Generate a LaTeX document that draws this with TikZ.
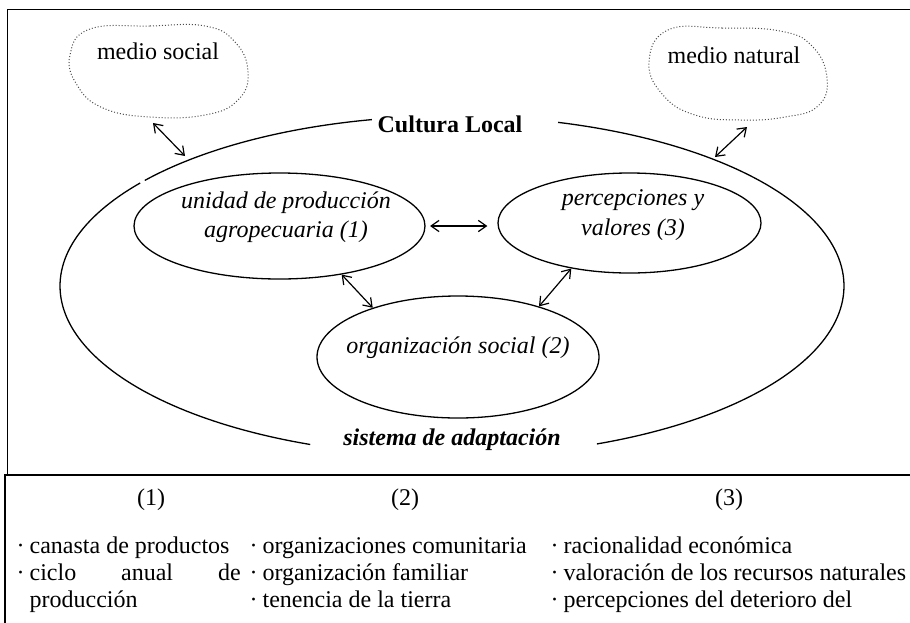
\documentclass[tikz,border=0pt]{standalone}
\usepackage{fontspec}
\setmainfont{Liberation Serif}
\usetikzlibrary{shapes.geometric,arrows.meta}
\newcommand{\bul}{\makebox[6.5pt][l]{\textperiodcentered}}
\begin{document}
\begin{tikzpicture}[x=0.5pt,y=-0.5pt,line width=0.65pt,font=\fontsize{12}{14.5}\selectfont,
	>={Straight Barb[length=4pt,width=5.6pt]},
	bubble/.style={draw,ellipse,inner sep=0pt},
	inlabel/.style={align=center,inner sep=0pt,font=\fontsize{12}{14.75}\selectfont\itshape},
	blob/.style={draw=black!70,line width=0.5pt,densely dotted},
	link/.style={<->,line width=0.6pt},
	col/.style={anchor=base west,inner sep=0pt,font=\fontsize{12}{13.5}\selectfont}]
	\useasboundingbox (0,0) rectangle (910,622);
	\clip (0,0) rectangle (910,622);
	\draw[line width=0.8pt] (920,9.5) -- (7.5,9.5) -- (7.5,475);
	\draw[line width=0.8pt] (5,640) -- (5,475) -- (920,475);
	\draw[blob] plot[smooth cycle,tension=0.75] coordinates {(90,29) (150,26) (205,26) (235,42)
		(248,72) (238,100) (205,115) (150,117) (103,108) (77,85) (70,55)};
	\draw[blob] plot[smooth cycle,tension=0.75] coordinates {(668,30) (722,28) (780,31) (812,46)
		(827,78) (818,106) (785,117) (740,120) (695,115) (663,95) (649,62)};
	\node (social) at (158,51) {medio social};
	\node (natural) at (734,55) {medio natural};
	\draw plot[domain=101.8:141.6,samples=40] ({452+392*cos(\x)},{286-170*sin(\x)});
	\draw plot[domain=142.7:248.8,samples=80] ({452+392*cos(\x)},{286-170*sin(\x)});
	\draw plot[domain=-68.3:74.3,samples=100] ({452+392*cos(\x)},{286-170*sin(\x)});
	\node (cultura) at (450,124) {\bfseries Cultura Local};
	\node (sistema) at (452,440) {\bfseries\itshape sistema de adaptación};
	\node[bubble,minimum width=145.5pt,minimum height=53pt] (unidad) at (279.5,226) {};
	\node[bubble,minimum width=131.5pt,minimum height=50pt] (perc) at (629.5,223) {};
	\node[bubble,minimum width=141pt,minimum height=61pt] (org) at (458,357) {};
	\node[inlabel] (unidadtxt) at (286,217) {unidad de producción\\agropecuaria (1)};
	\node[inlabel] (perctxt) at (633,215) {percepciones y\\valores (3)};
	\node[inlabel] (orgtxt) at (458,348) {organización social (2)};
	\coordinate (socialend) at (153,123);
	\coordinate (culturaW) at (185,156);
	\coordinate (naturalend) at (747,127);
	\coordinate (culturaE) at (715,157);
	\draw[link] (socialend) -- (culturaW);
	\draw[link] (naturalend) -- (culturaE);
	\draw[link,shorten <=2.2pt,shorten >=5pt] (unidad.east) -- (unidad.east -| perc.west);
	\draw[link] (unidad.-38) -- (org.150);
	\draw[link] (perc.218) -- (org.32);
	\node (h1) at (151,500) {(1)};
	\node (h2) at (405,500) {(2)};
	\node (h3) at (729,500) {(3)};
	\node[col] (items1) at (16,553.5) {\begin{tabular}[t]{@{}l@{}}\bul canasta de productos\\
		\makebox[112pt][s]{\bul ciclo anual de}\\ \hspace*{6.5pt}producción\end{tabular}};
	\node[col] (items2) at (249,553.5) {\begin{tabular}[t]{@{}l@{}}\bul organizaciones comunitaria\\
		\bul organización familiar\\ \bul tenencia de la tierra\end{tabular}};
	\node[col] (items3) at (550,553.5) {\begin{tabular}[t]{@{}l@{}}\bul racionalidad económica\\
		\bul valoración de los recursos naturales\\ \bul percepciones del deterioro del\end{tabular}};
\end{tikzpicture}
\end{document}
